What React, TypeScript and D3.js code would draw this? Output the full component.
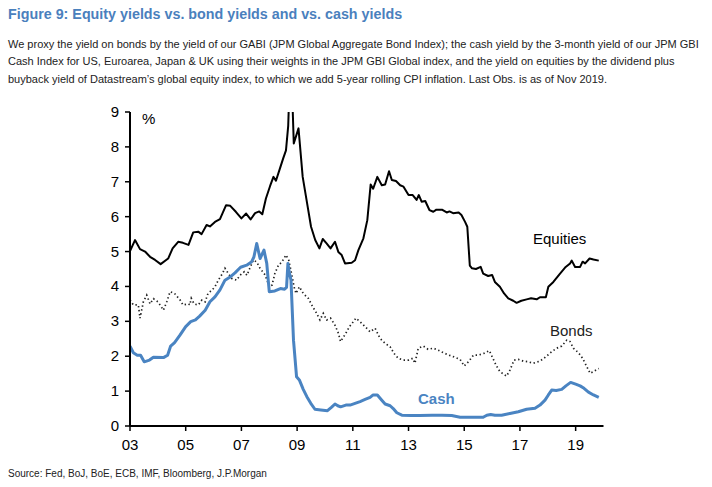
import React from "react";
import * as d3 from "d3";

const equityDates = [2003.0,2003.18,2003.36,2003.54,2003.72,2003.9,2004.1,2004.37,2004.53,2004.73,2004.9,2005.1,2005.27,2005.45,2005.57,2005.75,2005.87,2006.05,2006.23,2006.45,2006.6,2006.8,2007.0,2007.17,2007.33,2007.49,2007.64,2007.75,2007.88,2008.03,2008.15,2008.24,2008.39,2008.5,2008.6,2008.68,2008.72,2008.82,2008.88,2009.05,2009.2,2009.38,2009.5,2009.65,2009.8,2009.92,2010.05,2010.2,2010.36,2010.48,2010.6,2010.72,2010.96,2011.08,2011.2,2011.38,2011.52,2011.64,2011.73,2011.88,2012.04,2012.16,2012.3,2012.4,2012.55,2012.7,2012.82,2013.0,2013.15,2013.29,2013.37,2013.47,2013.6,2013.75,2013.89,2014.0,2014.2,2014.37,2014.47,2014.6,2014.8,2014.9,2015.03,2015.11,2015.2,2015.28,2015.42,2015.59,2015.68,2015.86,2016.0,2016.1,2016.28,2016.43,2016.58,2016.76,2016.88,2017.05,2017.24,2017.4,2017.6,2017.72,2017.93,2018.02,2018.2,2018.44,2018.62,2018.8,2018.86,2018.98,2019.16,2019.25,2019.34,2019.5,2019.64,2019.83];
const equityValues = [5.01,5.33,5.07,5.0,4.85,4.76,4.64,4.8,5.09,5.28,5.25,5.19,5.55,5.57,5.5,5.76,5.72,5.85,5.93,6.33,6.31,6.14,5.95,6.09,5.92,6.1,6.15,6.07,6.52,6.88,7.14,7.03,7.4,7.67,7.9,8.6,9.6,9.6,8.1,8.53,7.14,6.28,5.71,5.33,5.09,5.36,5.24,5.09,5.28,4.99,4.9,4.66,4.68,4.75,5.04,5.38,5.9,6.92,6.8,7.14,6.9,6.92,7.3,7.05,7.02,6.9,6.86,6.62,6.62,6.48,6.62,6.43,6.45,6.19,6.14,6.2,6.2,6.12,6.15,6.1,6.12,6.05,5.85,5.71,4.6,4.52,4.5,4.56,4.37,4.3,4.33,4.13,3.99,3.8,3.66,3.59,3.53,3.59,3.63,3.66,3.63,3.69,3.69,3.99,4.13,4.37,4.54,4.66,4.74,4.56,4.56,4.71,4.66,4.8,4.77,4.74];

const bondDates = [2003.0,2003.12,2003.3,2003.36,2003.48,2003.6,2003.72,2003.84,2004.0,2004.08,2004.2,2004.32,2004.44,2004.6,2004.8,2004.9,2005.1,2005.15,2005.2,2005.3,2005.45,2005.58,2005.7,2005.8,2005.95,2006.05,2006.17,2006.32,2006.41,2006.53,2006.65,2006.83,2006.95,2007.1,2007.2,2007.3,2007.43,2007.55,2007.67,2007.85,2008.0,2008.1,2008.2,2008.33,2008.45,2008.6,2008.7,2008.8,2008.89,2008.96,2009.08,2009.22,2009.4,2009.56,2009.7,2009.82,2009.94,2010.06,2010.2,2010.36,2010.48,2010.56,2010.75,2010.88,2011.02,2011.11,2011.26,2011.44,2011.62,2011.8,2011.98,2012.16,2012.34,2012.48,2012.63,2012.81,2013.0,2013.15,2013.23,2013.35,2013.53,2013.7,2013.9,2014.07,2014.25,2014.45,2014.6,2014.85,2015.0,2015.15,2015.33,2015.5,2015.7,2015.9,2016.0,2016.14,2016.28,2016.52,2016.64,2016.79,2016.94,2017.12,2017.3,2017.48,2017.72,2017.94,2018.14,2018.32,2018.5,2018.68,2018.8,2018.92,2019.1,2019.25,2019.4,2019.52,2019.64,2019.83];
const bondValues = [3.61,3.47,3.47,3.09,3.56,3.75,3.5,3.65,3.56,3.47,3.32,3.56,3.85,3.8,3.61,3.47,3.5,3.47,3.66,3.5,3.47,3.61,3.56,3.8,3.9,3.99,4.18,4.37,4.52,4.37,4.23,4.18,4.32,4.42,4.32,4.52,4.76,4.7,4.52,4.33,4.0,4.04,4.37,4.61,4.7,4.9,4.75,4.37,3.99,3.8,3.99,3.8,3.66,3.42,3.23,3.04,3.23,3.04,3.09,2.89,2.66,2.42,2.66,2.85,2.99,3.09,2.99,2.85,2.7,2.8,2.51,2.37,2.27,2.08,1.94,1.89,1.89,1.94,1.8,2.23,2.29,2.2,2.23,2.17,2.1,2.03,1.99,1.91,1.72,1.84,2.03,2.03,2.08,2.16,1.99,1.75,1.56,1.43,1.6,1.89,1.91,1.86,1.84,1.8,1.86,1.99,2.13,2.23,2.29,2.46,2.42,2.23,2.1,1.94,1.7,1.51,1.56,1.65];

const cashDates = [2003.0,2003.12,2003.26,2003.38,2003.51,2003.7,2003.84,2004.2,2004.35,2004.46,2004.6,2004.8,2005.0,2005.18,2005.35,2005.5,2005.7,2005.87,2006.05,2006.23,2006.41,2006.61,2006.77,2006.97,2007.19,2007.37,2007.45,2007.55,2007.67,2007.81,2007.91,2008.0,2008.2,2008.4,2008.55,2008.62,2008.67,2008.72,2008.78,2008.87,2008.98,2009.08,2009.22,2009.35,2009.49,2009.64,2009.85,2010.09,2010.24,2010.36,2010.46,2010.56,2010.75,2010.9,2011.08,2011.26,2011.44,2011.62,2011.73,2011.88,2012.04,2012.16,2012.34,2012.45,2012.58,2012.76,2013.1,2013.4,2013.85,2014.2,2014.55,2014.85,2015.2,2015.68,2015.81,2015.95,2016.1,2016.34,2016.64,2016.94,2017.24,2017.54,2017.72,2017.9,2018.02,2018.14,2018.3,2018.5,2018.65,2018.82,2019.0,2019.16,2019.3,2019.46,2019.64,2019.83];
const cashValues = [2.29,2.1,2.03,2.03,1.84,1.89,1.97,1.96,2.03,2.29,2.39,2.61,2.85,2.99,3.04,3.15,3.32,3.56,3.7,3.9,4.18,4.28,4.39,4.55,4.61,4.71,4.85,5.23,4.8,5.04,4.66,3.85,3.87,3.94,3.92,3.97,4.66,4.4,4.18,2.46,1.41,1.32,1.05,0.84,0.65,0.48,0.46,0.44,0.54,0.63,0.58,0.55,0.6,0.6,0.65,0.7,0.76,0.82,0.89,0.89,0.74,0.63,0.58,0.5,0.38,0.31,0.3,0.3,0.31,0.31,0.3,0.25,0.25,0.25,0.31,0.33,0.31,0.31,0.36,0.41,0.48,0.51,0.6,0.74,0.89,1.03,1.02,1.05,1.15,1.25,1.2,1.15,1.08,0.97,0.89,0.82];

const xTickYears = [2003, 2005, 2007, 2009, 2011, 2013, 2015, 2017, 2019];
const xTickLabels = ["03", "05", "07", "09", "11", "13", "15", "17", "19"];
const yTicks = [0, 1, 2, 3, 4, 5, 6, 7, 8, 9];

const titleText = "Figure 9: Equity yields vs. bond yields and vs. cash yields";
const bodyLines = [
  "We proxy the yield on bonds by the yield of our GABI (JPM Global Aggregate Bond Index); the cash yield by the 3-month yield of our JPM GBI",
  "Cash Index for US, Euroarea, Japan & UK using their weights in the JPM GBI Global index, and the yield on equities by the dividend plus",
  "buyback yield of Datastream\u2019s global equity index, to which we add 5-year rolling CPI inflation. Last Obs. is as of Nov 2019.",
];
const sourceText = "Source: Fed, BoJ, BoE, ECB, IMF, Bloomberg, J.P.Morgan";

const FONT = "Arial, 'Liberation Sans', Helvetica, sans-serif";
const BLUE = "#4a84c2";
const TITLE_BLUE = "#4a80bd";

export default function App() {
  const W = 712, H = 487;
  const x = d3.scaleLinear().domain([2003, 2020]).range([130, 603.5]);
  const y = d3.scaleLinear().domain([0, 9]).range([426, 112]);

  const mk = (dates: number[], vals: number[]) =>
    d3.line<number>().x((_, i) => x(dates[i])).y((v) => y(v))(vals) || "";

  const eq = mk(equityDates, equityValues);
  const bd = mk(bondDates, bondValues);
  const cs = mk(cashDates, cashValues);

  return (
    <svg width={W} height={H} style={{ position: "absolute", left: 0, top: 0, background: "#fff" }} fontFamily={FONT}>
      <defs>
        <clipPath id="plotclip">
          <rect x={x(2003)} y={y(9)} width={x(2020) - x(2003)} height={y(0) - y(9) + 5} />
        </clipPath>
      </defs>
      <text x={8} y={19} fontSize={14.3} fontWeight="bold" fill={TITLE_BLUE}>{titleText}</text>
      {bodyLines.map((t, i) => (
        <text key={i} x={8} y={47.5 + i * 17.5} fontSize={11} fill="#222">{t}</text>
      ))}
      <text x={8} y={477} fontSize={10} fill="#222">{sourceText}</text>

      <g clipPath="url(#plotclip)">
        <path d={bd} fill="none" stroke="#222" strokeWidth={1.7} strokeDasharray="1.4 2.6" />
        <path d={cs} fill="none" stroke={BLUE} strokeWidth={3} strokeLinejoin="round" />
        <path d={eq} fill="none" stroke="#000" strokeWidth={2} strokeLinejoin="round" />
      </g>

      {/* y axis */}
      <line x1={x(2003)} x2={x(2003)} y1={y(9)} y2={y(0)} stroke="#000" strokeWidth={2} />
      {yTicks.map((t) => (
        <g key={t}>
          <line x1={x(2003) - 5} x2={x(2003)} y1={y(t)} y2={y(t)} stroke="#000" strokeWidth={1.5} />
          <text x={x(2003) - 11} y={y(t) + 5} fontSize={15} textAnchor="end" fill="#000">{t}</text>
        </g>
      ))}
      {/* x axis */}
      <line x1={x(2003)} x2={x(2020)} y1={y(0)} y2={y(0)} stroke="#000" strokeWidth={2} />
      {xTickYears.map((t, i) => (
        <g key={t}>
          <line x1={x(t)} x2={x(t)} y1={y(0)} y2={y(0) + 5} stroke="#000" strokeWidth={1.5} />
          <text x={x(t)} y={y(0) + 24} fontSize={15} textAnchor="middle" fill="#000">{xTickLabels[i]}</text>
        </g>
      ))}

      <text x={x(2003) + 12} y={124} fontSize={15} fill="#000">%</text>
      <text x={533} y={244} fontSize={15} fill="#000">Equities</text>
      <text x={550} y={336} fontSize={15} fill="#222">Bonds</text>
      <text x={418} y={404} fontSize={15} fontWeight="bold" fill={BLUE}>Cash</text>
    </svg>
  );
}
